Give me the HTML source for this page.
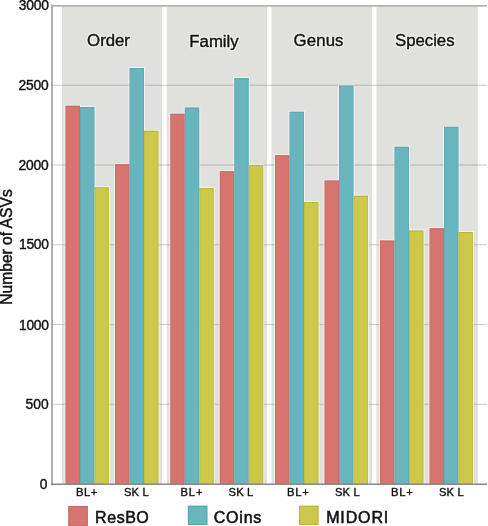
<!DOCTYPE html>
<html><head><meta charset="utf-8"><style>
html,body{margin:0;padding:0;background:#fff;width:488px;height:526px;overflow:hidden;}
svg{display:block;will-change:transform;}
text{font-family:"Liberation Sans",sans-serif;}
</style></head><body>
<svg width="488" height="526" viewBox="0 0 488 526">
<rect x="0" y="0" width="488" height="526" fill="#ffffff"/>
<rect x="62" y="6" width="100" height="478" fill="#e0e1dd"/>
<rect x="166.75" y="6" width="100.25" height="478" fill="#e0e1dd"/>
<rect x="271.5" y="6" width="100.5" height="478" fill="#e0e1dd"/>
<rect x="376.5" y="6" width="101.25" height="478" fill="#e0e1dd"/>
<line x1="52" y1="85.25" x2="487" y2="85.25" stroke="#c8c8c8" stroke-width="1"/>
<line x1="62" y1="85.25" x2="162" y2="85.25" stroke="#bcbcb8" stroke-width="1"/>
<line x1="166.75" y1="85.25" x2="267" y2="85.25" stroke="#bcbcb8" stroke-width="1"/>
<line x1="271.5" y1="85.25" x2="372" y2="85.25" stroke="#bcbcb8" stroke-width="1"/>
<line x1="376.5" y1="85.25" x2="477.75" y2="85.25" stroke="#bcbcb8" stroke-width="1"/>
<line x1="52" y1="165.0" x2="487" y2="165.0" stroke="#c8c8c8" stroke-width="1"/>
<line x1="62" y1="165.0" x2="162" y2="165.0" stroke="#bcbcb8" stroke-width="1"/>
<line x1="166.75" y1="165.0" x2="267" y2="165.0" stroke="#bcbcb8" stroke-width="1"/>
<line x1="271.5" y1="165.0" x2="372" y2="165.0" stroke="#bcbcb8" stroke-width="1"/>
<line x1="376.5" y1="165.0" x2="477.75" y2="165.0" stroke="#bcbcb8" stroke-width="1"/>
<line x1="52" y1="244.75" x2="487" y2="244.75" stroke="#c8c8c8" stroke-width="1"/>
<line x1="62" y1="244.75" x2="162" y2="244.75" stroke="#bcbcb8" stroke-width="1"/>
<line x1="166.75" y1="244.75" x2="267" y2="244.75" stroke="#bcbcb8" stroke-width="1"/>
<line x1="271.5" y1="244.75" x2="372" y2="244.75" stroke="#bcbcb8" stroke-width="1"/>
<line x1="376.5" y1="244.75" x2="477.75" y2="244.75" stroke="#bcbcb8" stroke-width="1"/>
<line x1="52" y1="324.5" x2="487" y2="324.5" stroke="#c8c8c8" stroke-width="1"/>
<line x1="62" y1="324.5" x2="162" y2="324.5" stroke="#bcbcb8" stroke-width="1"/>
<line x1="166.75" y1="324.5" x2="267" y2="324.5" stroke="#bcbcb8" stroke-width="1"/>
<line x1="271.5" y1="324.5" x2="372" y2="324.5" stroke="#bcbcb8" stroke-width="1"/>
<line x1="376.5" y1="324.5" x2="477.75" y2="324.5" stroke="#bcbcb8" stroke-width="1"/>
<line x1="52" y1="404.25" x2="487" y2="404.25" stroke="#c8c8c8" stroke-width="1"/>
<line x1="62" y1="404.25" x2="162" y2="404.25" stroke="#bcbcb8" stroke-width="1"/>
<line x1="166.75" y1="404.25" x2="267" y2="404.25" stroke="#bcbcb8" stroke-width="1"/>
<line x1="271.5" y1="404.25" x2="372" y2="404.25" stroke="#bcbcb8" stroke-width="1"/>
<line x1="376.5" y1="404.25" x2="477.75" y2="404.25" stroke="#bcbcb8" stroke-width="1"/>
<rect x="64.5" y="104.75" width="16.5" height="379.25" fill="#ffffff" opacity="0.6"/>
<rect x="79.0" y="106.0" width="16.5" height="378.0" fill="#ffffff" opacity="0.6"/>
<rect x="93.5" y="186.25" width="16.5" height="297.75" fill="#ffffff" opacity="0.6"/>
<rect x="114.0" y="163.25" width="16.5" height="320.75" fill="#ffffff" opacity="0.6"/>
<rect x="128.5" y="67.0" width="16.5" height="417.0" fill="#ffffff" opacity="0.6"/>
<rect x="143.0" y="129.75" width="16.5" height="354.25" fill="#ffffff" opacity="0.6"/>
<rect x="169.25" y="112.75" width="16.5" height="371.25" fill="#ffffff" opacity="0.6"/>
<rect x="183.75" y="106.5" width="16.5" height="377.5" fill="#ffffff" opacity="0.6"/>
<rect x="198.25" y="187.0" width="16.5" height="297.0" fill="#ffffff" opacity="0.6"/>
<rect x="218.75" y="170.25" width="16.5" height="313.75" fill="#ffffff" opacity="0.6"/>
<rect x="233.25" y="77.0" width="16.5" height="407.0" fill="#ffffff" opacity="0.6"/>
<rect x="247.75" y="164.0" width="16.5" height="320.0" fill="#ffffff" opacity="0.6"/>
<rect x="274.0" y="154.25" width="16.5" height="329.75" fill="#ffffff" opacity="0.6"/>
<rect x="288.5" y="110.75" width="16.5" height="373.25" fill="#ffffff" opacity="0.6"/>
<rect x="303.0" y="201.0" width="16.5" height="283.0" fill="#ffffff" opacity="0.6"/>
<rect x="323.5" y="179.5" width="16.5" height="304.5" fill="#ffffff" opacity="0.6"/>
<rect x="338.0" y="84.5" width="16.5" height="399.5" fill="#ffffff" opacity="0.6"/>
<rect x="352.5" y="194.75" width="16.5" height="289.25" fill="#ffffff" opacity="0.6"/>
<rect x="379.0" y="239.5" width="16.5" height="244.5" fill="#ffffff" opacity="0.6"/>
<rect x="393.5" y="145.75" width="16.5" height="338.25" fill="#ffffff" opacity="0.6"/>
<rect x="408.0" y="229.5" width="16.5" height="254.5" fill="#ffffff" opacity="0.6"/>
<rect x="428.5" y="227.25" width="16.5" height="256.75" fill="#ffffff" opacity="0.6"/>
<rect x="443.0" y="125.75" width="16.5" height="358.25" fill="#ffffff" opacity="0.6"/>
<rect x="457.5" y="231.0" width="16.5" height="253.0" fill="#ffffff" opacity="0.6"/>
<rect x="65.5" y="105.75" width="14.5" height="378.25" fill="#d6756f"/>
<path d="M65.5,106.25 H80.0" fill="none" stroke="#b85650" stroke-width="1" opacity="0.55"/>
<path d="M66.0,484 V106.75 M79.5,484 V106.75" fill="none" stroke="#b85650" stroke-width="1" opacity="0.3"/>
<rect x="80" y="107" width="14.5" height="377" fill="#68b5be"/>
<path d="M80,107.5 H94.5" fill="none" stroke="#4f9aa0" stroke-width="1" opacity="0.55"/>
<path d="M80.5,484 V108 M94.0,484 V108" fill="none" stroke="#4f9aa0" stroke-width="1" opacity="0.3"/>
<rect x="94.5" y="187.25" width="14.5" height="296.75" fill="#cbc84a"/>
<path d="M94.5,187.75 H109.0" fill="none" stroke="#aaa532" stroke-width="1" opacity="0.55"/>
<path d="M95.0,484 V188.25 M108.5,484 V188.25" fill="none" stroke="#aaa532" stroke-width="1" opacity="0.3"/>
<rect x="115" y="164.25" width="14.5" height="319.75" fill="#d6756f"/>
<path d="M115,164.75 H129.5" fill="none" stroke="#b85650" stroke-width="1" opacity="0.55"/>
<path d="M115.5,484 V165.25 M129.0,484 V165.25" fill="none" stroke="#b85650" stroke-width="1" opacity="0.3"/>
<rect x="129.5" y="68" width="14.5" height="416" fill="#68b5be"/>
<path d="M129.5,68.5 H144.0" fill="none" stroke="#4f9aa0" stroke-width="1" opacity="0.55"/>
<path d="M130.0,484 V69 M143.5,484 V69" fill="none" stroke="#4f9aa0" stroke-width="1" opacity="0.3"/>
<rect x="144" y="130.75" width="14.5" height="353.25" fill="#cbc84a"/>
<path d="M144,131.25 H158.5" fill="none" stroke="#aaa532" stroke-width="1" opacity="0.55"/>
<path d="M144.5,484 V131.75 M158.0,484 V131.75" fill="none" stroke="#aaa532" stroke-width="1" opacity="0.3"/>
<rect x="170.25" y="113.75" width="14.5" height="370.25" fill="#d6756f"/>
<path d="M170.25,114.25 H184.75" fill="none" stroke="#b85650" stroke-width="1" opacity="0.55"/>
<path d="M170.75,484 V114.75 M184.25,484 V114.75" fill="none" stroke="#b85650" stroke-width="1" opacity="0.3"/>
<rect x="184.75" y="107.5" width="14.5" height="376.5" fill="#68b5be"/>
<path d="M184.75,108.0 H199.25" fill="none" stroke="#4f9aa0" stroke-width="1" opacity="0.55"/>
<path d="M185.25,484 V108.5 M198.75,484 V108.5" fill="none" stroke="#4f9aa0" stroke-width="1" opacity="0.3"/>
<rect x="199.25" y="188" width="14.5" height="296" fill="#cbc84a"/>
<path d="M199.25,188.5 H213.75" fill="none" stroke="#aaa532" stroke-width="1" opacity="0.55"/>
<path d="M199.75,484 V189 M213.25,484 V189" fill="none" stroke="#aaa532" stroke-width="1" opacity="0.3"/>
<rect x="219.75" y="171.25" width="14.5" height="312.75" fill="#d6756f"/>
<path d="M219.75,171.75 H234.25" fill="none" stroke="#b85650" stroke-width="1" opacity="0.55"/>
<path d="M220.25,484 V172.25 M233.75,484 V172.25" fill="none" stroke="#b85650" stroke-width="1" opacity="0.3"/>
<rect x="234.25" y="78" width="14.5" height="406" fill="#68b5be"/>
<path d="M234.25,78.5 H248.75" fill="none" stroke="#4f9aa0" stroke-width="1" opacity="0.55"/>
<path d="M234.75,484 V79 M248.25,484 V79" fill="none" stroke="#4f9aa0" stroke-width="1" opacity="0.3"/>
<rect x="248.75" y="165" width="14.5" height="319" fill="#cbc84a"/>
<path d="M248.75,165.5 H263.25" fill="none" stroke="#aaa532" stroke-width="1" opacity="0.55"/>
<path d="M249.25,484 V166 M262.75,484 V166" fill="none" stroke="#aaa532" stroke-width="1" opacity="0.3"/>
<rect x="275.0" y="155.25" width="14.5" height="328.75" fill="#d6756f"/>
<path d="M275.0,155.75 H289.5" fill="none" stroke="#b85650" stroke-width="1" opacity="0.55"/>
<path d="M275.5,484 V156.25 M289.0,484 V156.25" fill="none" stroke="#b85650" stroke-width="1" opacity="0.3"/>
<rect x="289.5" y="111.75" width="14.5" height="372.25" fill="#68b5be"/>
<path d="M289.5,112.25 H304.0" fill="none" stroke="#4f9aa0" stroke-width="1" opacity="0.55"/>
<path d="M290.0,484 V112.75 M303.5,484 V112.75" fill="none" stroke="#4f9aa0" stroke-width="1" opacity="0.3"/>
<rect x="304.0" y="202" width="14.5" height="282" fill="#cbc84a"/>
<path d="M304.0,202.5 H318.5" fill="none" stroke="#aaa532" stroke-width="1" opacity="0.55"/>
<path d="M304.5,484 V203 M318.0,484 V203" fill="none" stroke="#aaa532" stroke-width="1" opacity="0.3"/>
<rect x="324.5" y="180.5" width="14.5" height="303.5" fill="#d6756f"/>
<path d="M324.5,181.0 H339.0" fill="none" stroke="#b85650" stroke-width="1" opacity="0.55"/>
<path d="M325.0,484 V181.5 M338.5,484 V181.5" fill="none" stroke="#b85650" stroke-width="1" opacity="0.3"/>
<rect x="339.0" y="85.5" width="14.5" height="398.5" fill="#68b5be"/>
<path d="M339.0,86.0 H353.5" fill="none" stroke="#4f9aa0" stroke-width="1" opacity="0.55"/>
<path d="M339.5,484 V86.5 M353.0,484 V86.5" fill="none" stroke="#4f9aa0" stroke-width="1" opacity="0.3"/>
<rect x="353.5" y="195.75" width="14.5" height="288.25" fill="#cbc84a"/>
<path d="M353.5,196.25 H368.0" fill="none" stroke="#aaa532" stroke-width="1" opacity="0.55"/>
<path d="M354.0,484 V196.75 M367.5,484 V196.75" fill="none" stroke="#aaa532" stroke-width="1" opacity="0.3"/>
<rect x="380.0" y="240.5" width="14.5" height="243.5" fill="#d6756f"/>
<path d="M380.0,241.0 H394.5" fill="none" stroke="#b85650" stroke-width="1" opacity="0.55"/>
<path d="M380.5,484 V241.5 M394.0,484 V241.5" fill="none" stroke="#b85650" stroke-width="1" opacity="0.3"/>
<rect x="394.5" y="146.75" width="14.5" height="337.25" fill="#68b5be"/>
<path d="M394.5,147.25 H409.0" fill="none" stroke="#4f9aa0" stroke-width="1" opacity="0.55"/>
<path d="M395.0,484 V147.75 M408.5,484 V147.75" fill="none" stroke="#4f9aa0" stroke-width="1" opacity="0.3"/>
<rect x="409.0" y="230.5" width="14.5" height="253.5" fill="#cbc84a"/>
<path d="M409.0,231.0 H423.5" fill="none" stroke="#aaa532" stroke-width="1" opacity="0.55"/>
<path d="M409.5,484 V231.5 M423.0,484 V231.5" fill="none" stroke="#aaa532" stroke-width="1" opacity="0.3"/>
<rect x="429.5" y="228.25" width="14.5" height="255.75" fill="#d6756f"/>
<path d="M429.5,228.75 H444.0" fill="none" stroke="#b85650" stroke-width="1" opacity="0.55"/>
<path d="M430.0,484 V229.25 M443.5,484 V229.25" fill="none" stroke="#b85650" stroke-width="1" opacity="0.3"/>
<rect x="444.0" y="126.75" width="14.5" height="357.25" fill="#68b5be"/>
<path d="M444.0,127.25 H458.5" fill="none" stroke="#4f9aa0" stroke-width="1" opacity="0.55"/>
<path d="M444.5,484 V127.75 M458.0,484 V127.75" fill="none" stroke="#4f9aa0" stroke-width="1" opacity="0.3"/>
<rect x="458.5" y="232" width="14.5" height="252" fill="#cbc84a"/>
<path d="M458.5,232.5 H473.0" fill="none" stroke="#aaa532" stroke-width="1" opacity="0.55"/>
<path d="M459.0,484 V233 M472.5,484 V233" fill="none" stroke="#aaa532" stroke-width="1" opacity="0.3"/>
<line x1="52" y1="5" x2="52" y2="485" stroke="#9a9a9a" stroke-width="1.6" stroke-linecap="round"/>
<line x1="51" y1="5.9" x2="487" y2="5.9" stroke="#b2b2b2" stroke-width="1.7"/>
<line x1="51" y1="484.25" x2="487" y2="484.25" stroke="#888" stroke-width="1.5"/>
<g font-family="Liberation Sans, sans-serif" fill="#111" stroke="#111" stroke-width="0.65">
<text x="108.51" y="45.90" font-size="16.8" stroke="#ffffff" fill="#ffffff" stroke-width="2.6" stroke-linejoin="round" opacity="0.75" text-anchor="middle" textLength="42.82" lengthAdjust="spacing">Order</text>
<text id="t_Order" x="108.51" y="45.90" font-size="16.8" stroke-width="0.42" text-anchor="middle" textLength="42.82" lengthAdjust="spacing">Order</text>
<text x="213.97" y="46.70" font-size="16.8" stroke="#ffffff" fill="#ffffff" stroke-width="2.6" stroke-linejoin="round" opacity="0.75" text-anchor="middle" textLength="49.22" lengthAdjust="spacing">Family</text>
<text id="t_Family" x="213.97" y="46.70" font-size="16.8" stroke-width="0.42" text-anchor="middle" textLength="49.22" lengthAdjust="spacing">Family</text>
<text x="318.50" y="45.90" font-size="16.8" stroke="#ffffff" fill="#ffffff" stroke-width="2.6" stroke-linejoin="round" opacity="0.75" text-anchor="middle" textLength="49.98" lengthAdjust="spacing">Genus</text>
<text id="t_Genus" x="318.50" y="45.90" font-size="16.8" stroke-width="0.42" text-anchor="middle" textLength="49.98" lengthAdjust="spacing">Genus</text>
<text x="424.77" y="45.90" font-size="16.8" stroke="#ffffff" fill="#ffffff" stroke-width="2.6" stroke-linejoin="round" opacity="0.75" text-anchor="middle" textLength="59.64" lengthAdjust="spacing">Species</text>
<text id="t_Species" x="424.77" y="45.90" font-size="16.8" stroke-width="0.42" text-anchor="middle" textLength="59.64" lengthAdjust="spacing">Species</text>
<text id="t_y3000" x="48.85" y="9.83" font-size="13.8" stroke-width="0.4" text-anchor="end" textLength="30.06" lengthAdjust="spacing">3000</text>
<text id="t_y2500" x="48.63" y="90.25" font-size="13.8" stroke-width="0.4" text-anchor="end" textLength="30.10" lengthAdjust="spacing">2500</text>
<text id="t_y2000" x="48.63" y="170.44" font-size="13.8" stroke-width="0.4" text-anchor="end" textLength="30.10" lengthAdjust="spacing">2000</text>
<text id="t_y1500" x="48.87" y="249.10" font-size="13.8" stroke-width="0.4" text-anchor="end" textLength="29.80" lengthAdjust="spacing">1500</text>
<text id="t_y1000" x="48.87" y="329.59" font-size="13.8" stroke-width="0.4" text-anchor="end" textLength="29.80" lengthAdjust="spacing">1000</text>
<text id="t_y500" x="48.58" y="408.99" font-size="13.8" stroke-width="0.4" text-anchor="end" textLength="23.14" lengthAdjust="spacing">500</text>
<text id="t_y0" x="47.50" y="488.70" font-size="13.8" stroke-width="0.4" text-anchor="end" textLength="24.13" lengthAdjust="spacing">0</text>
<text id="t_BL0" x="86.72" y="496.00" font-size="11.2" stroke-width="0.38" text-anchor="middle" textLength="21.39" lengthAdjust="spacing">BL+</text>
<text id="t_SK0" x="136.29" y="496.00" font-size="11.2" stroke-width="0.38" text-anchor="middle" textLength="24.69" lengthAdjust="spacing">SK L</text>
<text id="t_BL1" x="191.46" y="496.00" font-size="11.2" stroke-width="0.38" text-anchor="middle" textLength="22.13" lengthAdjust="spacing">BL+</text>
<text id="t_SK1" x="240.88" y="496.00" font-size="11.2" stroke-width="0.38" text-anchor="middle" textLength="24.68" lengthAdjust="spacing">SK L</text>
<text id="t_BL2" x="297.92" y="496.00" font-size="11.2" stroke-width="0.38" text-anchor="middle" textLength="21.64" lengthAdjust="spacing">BL+</text>
<text id="t_SK2" x="347.30" y="496.00" font-size="11.2" stroke-width="0.38" text-anchor="middle" textLength="24.68" lengthAdjust="spacing">SK L</text>
<text id="t_BL3" x="401.92" y="496.00" font-size="11.2" stroke-width="0.38" text-anchor="middle" textLength="21.64" lengthAdjust="spacing">BL+</text>
<text id="t_SK3" x="451.30" y="496.00" font-size="11.2" stroke-width="0.38" text-anchor="middle" textLength="24.68" lengthAdjust="spacing">SK L</text>
<text id="t_ResBO" x="95.12" y="523.00" font-size="16.0" stroke-width="0.55" text-anchor="start" textLength="53.69" lengthAdjust="spacing">ResBO</text>
<text id="t_COins" x="213.79" y="522.64" font-size="16.0" stroke-width="0.55" text-anchor="start" textLength="47.55" lengthAdjust="spacing">COins</text>
<text id="t_MIDORI" x="326.14" y="522.60" font-size="16.0" stroke-width="0.55" text-anchor="start" textLength="62.13" lengthAdjust="spacing">MIDORI</text>
<text id="t_ytitle" transform="translate(11.60,247.05) rotate(-90)" font-size="15.63" stroke-width="0.45" text-anchor="middle">Number of ASVs</text>
</g>
<rect x="68.3" y="506.0" width="19.5" height="20.6" fill="#d6756f"/>
<rect x="68.8" y="506.5" width="18.5" height="19.6" fill="none" stroke="#b85650" stroke-width="1" opacity="0.6"/>
<rect x="187.9" y="505.7" width="19.5" height="19.3" fill="#68b5be"/>
<rect x="188.4" y="506.2" width="18.5" height="18.3" fill="none" stroke="#4f9aa0" stroke-width="1" opacity="0.6"/>
<rect x="299.0" y="505.7" width="19.5" height="19.3" fill="#cbc84a"/>
<rect x="299.5" y="506.2" width="18.5" height="18.3" fill="none" stroke="#aaa532" stroke-width="1" opacity="0.6"/>
</svg>
</body></html>
